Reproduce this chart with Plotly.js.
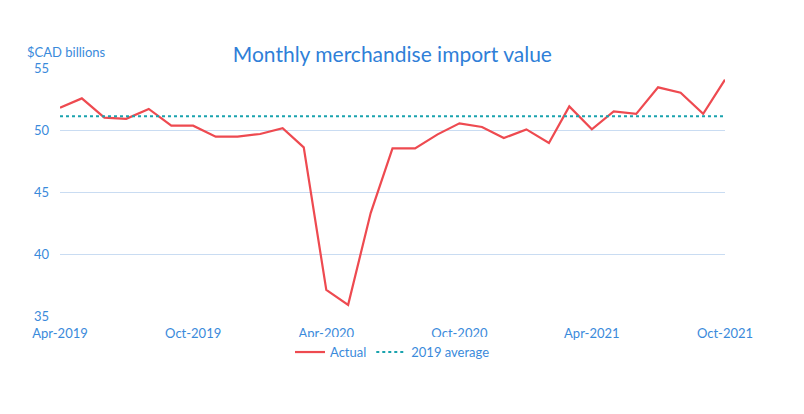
<!DOCTYPE html>
<html>
<head>
<meta charset="utf-8">
<script src="https://cdn.plot.ly/plotly-3.0.1.min.js"></script>
<style>html,body{margin:0;padding:0;background:#fff;}#chart{width:804px;height:414px;}</style>
</head>
<body>
<div id="chart"></div>
<script>
const months = ["2019-04-01","2019-05-01","2019-06-01","2019-07-01","2019-08-01","2019-09-01","2019-10-01","2019-11-01","2019-12-01","2020-01-01","2020-02-01","2020-03-01","2020-04-01","2020-05-01","2020-06-01","2020-07-01","2020-08-01","2020-09-01","2020-10-01","2020-11-01","2020-12-01","2021-01-01","2021-02-01","2021-03-01","2021-04-01","2021-05-01","2021-06-01","2021-07-01","2021-08-01","2021-09-01","2021-10-01"];
const actual = [51.8,52.55,51.0,50.9,51.7,50.35,50.35,49.46,49.46,49.68,50.15,48.6,37.1,35.9,43.3,48.52,48.52,49.65,50.54,50.24,49.35,50.05,48.95,51.9,50.05,51.5,51.3,53.44,53.0,51.3,54.06];
const avg2019 = 51.1;
const avgLine = months.map(() => avg2019);
const xTicks = ["2019-04-01","2019-10-01","2020-04-01","2020-10-01","2021-04-01","2021-10-01"];
const blue = "#3A8ADB";
const font = "Lato, 'Open Sans', sans-serif";
Plotly.newPlot("chart", [
  {x: months, y: actual, name: "Actual", type: "scatter", mode: "lines",
   line: {color: "#EE4A50", width: 2.2}},
  {x: months, y: avgLine, name: "2019 average", type: "scatter", mode: "lines",
   line: {color: "#1AA3AE", width: 2, dash: "dot"}}
], {
  width: 804, height: 414,
  margin: {l: 60, r: 79, t: 68, b: 98},
  paper_bgcolor: "#fff", plot_bgcolor: "#fff",
  font: {family: font, color: blue, size: 12},
  title: {text: "Monthly merchandise import value", font: {size: 21, color: "#2F7FD8", family: font},
          x: 0.488, xanchor: "center", y: 0.868, yanchor: "middle"},
  xaxis: {type: "date", range: ["2019-04-01", "2021-10-01"], tickvals: xTicks,
          tickformat: "%b-%Y", showgrid: false, zeroline: false, showline: false, ticks: "",
          ticklabelstandoff: 8, tickfont: {size: 13, color: blue}},
  yaxis: {range: [35, 55], dtick: 5, showgrid: true, gridcolor: "#C9DCF2", gridwidth: 1,
          zeroline: false, showline: false, ticks: "", ticklabelstandoff: 10,
          tickfont: {size: 13, color: blue}},
  showlegend: true,
  legend: {orientation: "h", x: 0.5, xanchor: "center", y: -0.085, yanchor: "top",
           font: {size: 13, color: blue}},
  annotations: [{text: "$CAD billions", xref: "paper", yref: "paper", x: -0.052, y: 1.025,
                 xanchor: "left", yanchor: "bottom", showarrow: false, font: {size: 13, color: blue}}]
}, {displayModeBar: false, staticPlot: true});
</script>
</body>
</html>
